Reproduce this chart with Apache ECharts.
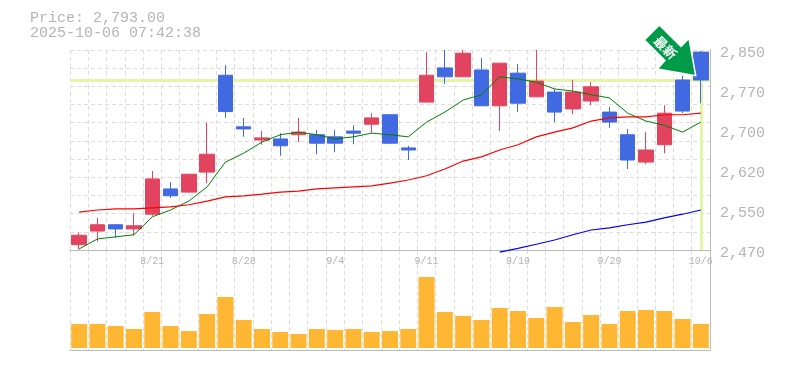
<!DOCTYPE html>
<html>
<head>
<meta charset="utf-8">
<style>html,body{margin:0;padding:0;background:#fff}#c{width:785px;height:370px}</style>
<script src="https://cdn.jsdelivr.net/npm/echarts@6/dist/echarts.min.js"></script>
</head>
<body>
<div id="c"></div>
<script>
const titleLines = ["Price: 2,793.00", "2025-10-06 07:42:38"];
const arrowText = "最新";
const lastPrice = 2793;
const categories = ["8/15","8/18","8/19","8/20","8/21","8/22","8/25","8/26","8/27","8/28","8/29","9/1","9/2","9/3","9/4","9/5","9/8","9/9","9/10","9/11","9/12","9/16","9/17","9/18","9/19","9/22","9/24","9/25","9/26","9/29","9/30","10/1","10/2","10/3","10/6"];
// [open, close, low, high]
const candles = [
[2480,2498,2471,2503],[2506,2518,2486,2531],[2518,2510,2493,2518],[2510,2516,2498,2540],[2538,2605,2535,2620],
[2586,2573,2569,2599],[2580,2614,2580,2614],[2618,2652,2597,2712],[2802,2733,2721,2821],[2704,2700,2685,2721],
[2679,2683,2670,2696],[2681,2668,2649,2692],[2689,2694,2675,2721],[2689,2673,2652,2698],[2685,2673,2656,2698],
[2696,2692,2671,2707],[2709,2721,2692,2730],[2727,2673,2671,2728],[2664,2660,2641,2668],[2751,2802,2751,2846],
[2816,2799,2785,2850],[2799,2844,2799,2850],[2812,2744,2744,2835],[2744,2825,2696,2825],[2806,2749,2732,2823],
[2761,2791,2761,2850],[2770,2732,2713,2776],[2738,2770,2728,2793],[2753,2780,2745,2789],[2732,2713,2702,2742],
[2689,2641,2624,2700],[2637,2660,2633,2694],[2670,2730,2654,2745],[2793,2734,2730,2801],[2846,2793,2749,2848]];
const maShort = [2472,2491,2495,2499,2533,2546,2563,2590,2637,2654,2675,2689,2694,2689,2681,2685,2692,2689,2685,2713,2732,2755,2765,2799,2795,2789,2776,2772,2765,2759,2730,2715,2707,2694,2713];
const maMid = [2542,2546,2548,2548,2550,2552,2556,2563,2571,2573,2576,2580,2582,2586,2588,2590,2592,2597,2603,2611,2624,2639,2647,2660,2670,2685,2694,2702,2715,2721,2723,2723,2727,2727,2730];
const maLong = [null,null,null,null,null,null,null,null,null,null,null,null,null,null,null,null,null,null,null,null,null,null,null,2466,2473,2481,2489,2499,2508,2512,2518,2523,2531,2538,2546];
const volumes = [24,24,22,19,36,22,17,34,51,28,19,16,14,19,18,19,16,17,19,71,36,32,28,40,37,30,41,26,33,24,37,38,37,29,24];
const yTickValues = [2470,2546,2622,2698,2774,2850];
const yTickLabels = ["2,470","2,550","2,620","2,700","2,770","2,850"];

const GREY = "#b4b4b4", GRID = "#dddddd", RED = "#E2445F", BLUE = "#4169E1", FONT = "'Liberation Mono', monospace";
const chart = echarts.init(document.getElementById("c"), null, {renderer: "canvas"});
const gridSplit = {show: true, lineStyle: {color: GRID, width: 1, type: [4, 3]}};
chart.setOption({
  animation: false,
  backgroundColor: "#fff",
  title: {
    text: titleLines.join("\n"), left: 30, top: 11, padding: 0,
    textStyle: {fontFamily: FONT, fontSize: 15, fontWeight: "normal", color: GREY, lineHeight: 15}
  },
  grid: [
    {left: 70, right: 75, top: 50, height: 200},
    {left: 70, right: 75, top: 250, height: 100}
  ],
  xAxis: [
    {type: "category", gridIndex: 0, data: categories, boundaryGap: true,
     axisLine: {onZero: false, lineStyle: {color: "#bbbbbb"}}, axisTick: {show: false},
     axisLabel: {interval: (i) => i % 5 === 4, color: GREY, fontFamily: FONT, fontSize: 10, margin: 6, hideOverlap: false},
     splitLine: {...gridSplit, interval: 0}},
    {type: "category", gridIndex: 1, data: categories, boundaryGap: true,
     axisLine: {onZero: false, lineStyle: {color: "#bbbbbb"}}, axisTick: {show: false}, axisLabel: {show: false},
     splitLine: {...gridSplit, interval: 0}}
  ],
  yAxis: [
    {type: "value", gridIndex: 0, position: "right", min: 2470, max: 2850, scale: true,
     axisLine: {show: true, lineStyle: {color: "#bbbbbb"}}, axisTick: {show: false}, splitLine: {show: false},
     axisLabel: {customValues: yTickValues, formatter: (v) => yTickLabels[yTickValues.indexOf(v)],
       color: GREY, fontFamily: FONT, fontSize: 15, margin: 10, align: "left", verticalAlign: "top", lineHeight: 6}},
    {type: "value", gridIndex: 0, position: "left", min: 0, max: 11, interval: 1,
     axisLine: {show: false}, axisTick: {show: false}, axisLabel: {show: false}, splitLine: gridSplit},
    {type: "value", gridIndex: 1, position: "right", min: -2, max: 98, interval: 100,
     axisLine: {show: true, lineStyle: {color: "#bbbbbb"}}, axisTick: {show: false}, axisLabel: {show: false}, splitLine: {show: false}}
  ],
  series: [
    {name: "Price", type: "line", xAxisIndex: 0, yAxisIndex: 0, data: [], z: 1, silent: true,
     markLine: {z: 1, symbol: "none", silent: true, label: {show: false},
       lineStyle: {color: "#E3F5A8", width: 3, type: "solid"},
       data: [{yAxis: lastPrice}, {xAxis: categories[categories.length - 1]}]}},
    {type: "candlestick", xAxisIndex: 0, yAxisIndex: 0, data: candles, barWidth: 15, z: 2,
     itemStyle: {color: RED, color0: BLUE, borderColor: RED, borderColor0: BLUE, borderWidth: 1}},
    {type: "line", xAxisIndex: 0, yAxisIndex: 0, data: maShort, symbol: "none", z: 3, lineStyle: {color: "#008000", width: 1}},
    {type: "line", xAxisIndex: 0, yAxisIndex: 0, data: maMid, symbol: "none", z: 3, lineStyle: {color: "#FF0000", width: 1.2}},
    {type: "line", xAxisIndex: 0, yAxisIndex: 0, data: maLong, symbol: "none", z: 3, clip: false, lineStyle: {color: "#0000FF", width: 1.2}},
    {type: "bar", xAxisIndex: 1, yAxisIndex: 2, data: volumes, barWidth: 16, itemStyle: {color: "#FFB733"}}
  ],
  graphic: [
    {type: "polygon", z: 50,
     shape: {points: [[644.3,40],[659.3,25],[681,46.5],[689,38.3],[695.7,75.7],[657.3,69],[665,60.5]]},
     style: {fill: "#009B48", stroke: "#fff", lineWidth: 1.5}},
    {type: "text", z: 51, x: 665.5, y: 47.5, rotation: -Math.PI / 4,
     style: {text: arrowText, fill: "#fff", align: "center", verticalAlign: "middle",
       font: "bold 13px 'Noto Sans CJK JP'"}}
  ]
});
</script>
</body>
</html>
